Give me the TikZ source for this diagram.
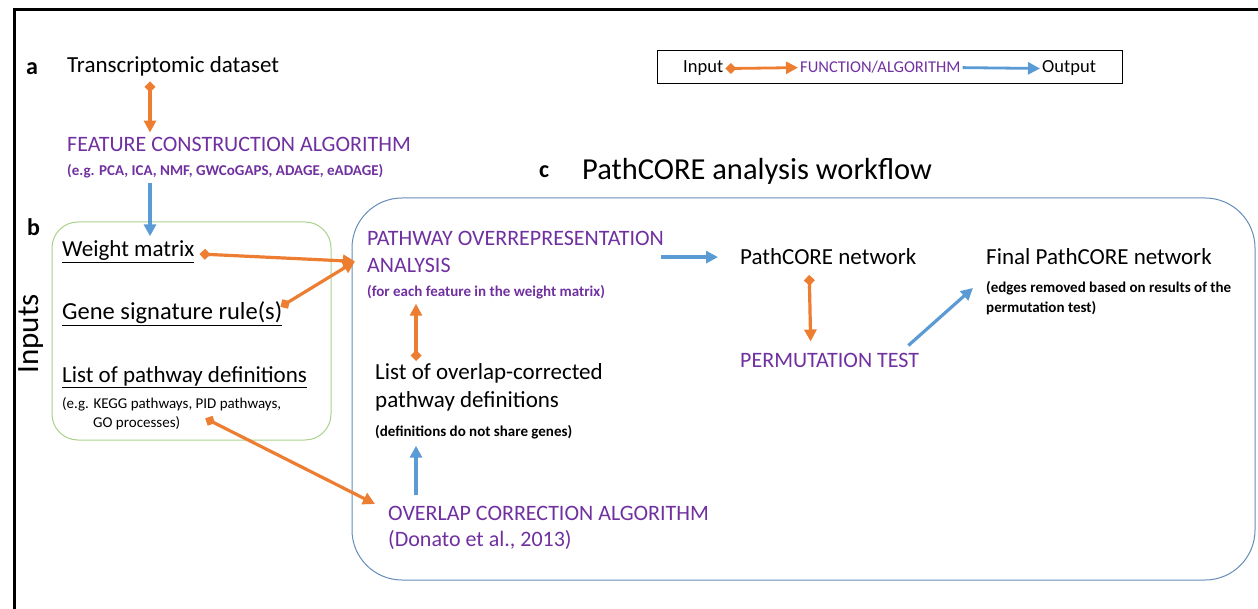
\documentclass[tikz,border=0pt]{standalone}
\usepackage{fontspec}
\setmainfont{Carlito}
\usetikzlibrary{positioning,arrows.meta,calc}
\definecolor{funcpurple}{RGB}{112,48,160}
\definecolor{inorange}{RGB}{237,125,49}
\definecolor{outblue}{RGB}{91,155,213}
\definecolor{inputsgreen}{RGB}{169,209,142}
\definecolor{workflowblue}{RGB}{100,140,185}

\begin{document}
\begin{tikzpicture}[x=1pt,y=-1pt,
    txt/.style={anchor=base west,inner sep=2pt,font=\fontsize{23}{28}\selectfont},
    func/.style={txt,text=funcpurple,font=\fontsize{22}{27}\selectfont},
    note/.style={anchor=base west,inner sep=2pt,font=\fontsize{15}{19}\selectfont\bfseries,align=left},
    panel/.style={anchor=base west,inner sep=0pt,font=\fontsize{24}{28}\selectfont\bfseries},
    inarrow/.style={draw=inorange,line width=3.2pt,{Diamond[length=11pt,width=11pt]}-{Triangle[length=12pt,width=12pt]}},
    outarrow/.style={draw=outblue,line width=3.2pt,-{Triangle[length=12pt,width=12pt]}}]
  \useasboundingbox (0,0) rectangle (1258,609);
  % outer frame, runs off the right and bottom edges
  \draw[line width=3pt] (14,640) -- (14,10) -- (1280,10);

  % legend
  \node[draw,line width=1.2pt,minimum width=465pt,minimum height=33pt,anchor=north west] (legend) at (657,50) {};
  \node[txt,font=\fontsize{18.5}{22}\selectfont] (lin) at (681,73) {Input};
  \node[txt,font=\fontsize{16.5}{20}\selectfont,text=funcpurple] (lfunc) at (798,73) {FUNCTION/ALGORITHM};
  \node[txt,font=\fontsize{18.5}{22}\selectfont] (lout) at (1040,73) {Output};
  \draw[inarrow,line width=2.8pt] (lin.east) -- (lfunc.west);
  \draw[outarrow,line width=2.8pt] (lfunc.east) -- (lout.west);

  % a: feature construction
  \node[panel] (la) at (26,75) {a};
  \node[txt] (tds) at (65,73) {Transcriptomic dataset};
  \node[func] (fca) at (65,152) {FEATURE CONSTRUCTION ALGORITHM};
  \node[note,text=funcpurple] (fcaeg) at (65,176) {(e.g. PCA, ICA, NMF, GWCoGAPS, ADAGE, eADAGE)};

  % b: inputs
  \node[panel] (lb) at (27,236) {b};
  \node[rotate=90,font=\fontsize{31}{36}\selectfont] (inputs) at (31,334) {Inputs};
  \draw[inputsgreen,line width=1pt,rounded corners=26pt] (52,222) rectangle (331,440);
  \node[txt] (wm) at (60,257) {\underline{Weight matrix}};
  \node[txt,font=\fontsize{24.5}{28}\selectfont] (gsr) at (60,320) {\underline{Gene signature rule(s)}};
  \node[txt] (lpd) at (60,382) {\underline{List of pathway definitions}};
  \node[note,anchor=north west,font=\fontsize{15}{19}\selectfont] (kegg) at (60,395) {(e.g. KEGG pathways, PID pathways,\\\hspace*{31pt}GO processes)};

  % c: PathCORE workflow
  \node[panel] (lc) at (539,178) {c};
  \node[txt,font=\fontsize{30.5}{35}\selectfont] (title) at (580,180) {PathCORE analysis workflow};
  \draw[workflowblue,line width=1pt,rounded corners=50pt] (352,198) rectangle (1255,580);
  \node[func,align=left,anchor=north west] (pwa) at (365,229) {PATHWAY OVERREPRESENTATION\\ANALYSIS};
  \node[note,text=funcpurple] (pwaeg) at (365,297) {(for each feature in the weight matrix)};
  \node[txt,align=left,anchor=north west] (olc) at (373,361) {List of overlap-corrected\\pathway definitions};
  \node[note] (olceg) at (373,436) {(definitions do not share genes)};
  \node[func,align=left,anchor=north west,font=\fontsize{22}{26}\selectfont] (ocr) at (386,504) {OVERLAP CORRECTION ALGORITHM\\(Donato et al., 2013)};
  \node[txt] (pcn) at (738,265) {PathCORE network};
  \node[func] (perm) at (738,367) {PERMUTATION TEST};
  \node[txt] (fpn) at (984,265) {Final PathCORE network};
  \node[note,anchor=north west,font=\fontsize{15}{20}\selectfont\bfseries] (fpneg) at (984,279) {(edges removed based on results of the\\permutation test)};

  % inputs to functions
  \draw[inarrow] ([yshift=-2.5pt]tds.south -| 150,0) -- ([yshift=3pt]fca.north -| 150,0);
  \draw[inarrow] ([xshift=3pt,yshift=-2pt]wm.east) -- ([xshift=-10pt,yshift=-9.5pt]pwa.west);
  \draw[inarrow] ([xshift=-4pt,yshift=-7pt]gsr.north east) -- ([xshift=-10pt,yshift=-9.5pt]pwa.west);
  \draw[inarrow] ([xshift=33.5pt,yshift=13.5pt]kegg.south) -- ([xshift=-11pt]ocr.north west);
  \draw[inarrow] ([xshift=43pt]olc.north west) -- ([xshift=51pt,yshift=-2pt]pwaeg.south west);
  \draw[inarrow] ([xshift=-19pt,yshift=-7.5pt]pcn.south) -- ([xshift=-19pt,yshift=9pt]perm.north);

  % functions to outputs
  \draw[outarrow] ([yshift=-2pt]fcaeg.south -| 150,0) -- ([yshift=2.5pt]wm.north -| 150,0);
  \draw[outarrow] ([xshift=30pt,yshift=9pt]ocr.north west) -- ([xshift=43pt,yshift=-5pt]olceg.south west);
  \draw[outarrow] ([xshift=-5pt]pwa.east |- pcn.west) -- ([xshift=-20pt]pcn.west);
  \draw[outarrow] ([xshift=-13pt,yshift=5pt]perm.north east) -- ([xshift=-11pt,yshift=-9pt]fpneg.north west);
\end{tikzpicture}
\end{document}
